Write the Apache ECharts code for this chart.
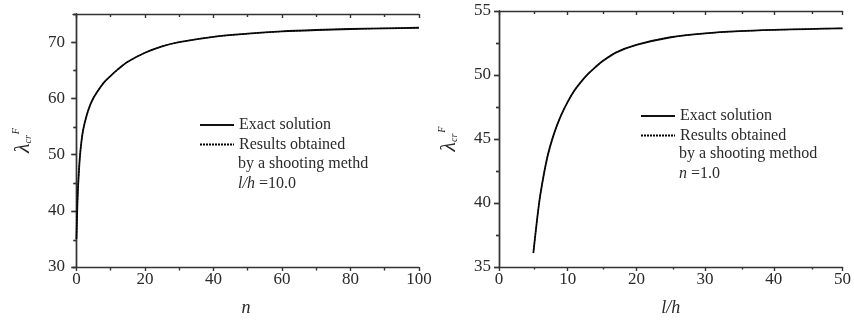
<!DOCTYPE html>
<html>
<head>
<meta charset="utf-8">
<script src="https://cdn.jsdelivr.net/npm/echarts@6/dist/echarts.min.js"></script>
<style>html,body{margin:0;padding:0;background:#fff;}#c{width:854px;height:322px;}</style>
</head>
<body>
<div id="c"></div>
<script>
// Left panel: lambda_cr^F vs n (l/h = 10.0)
const leftN        = [0, 0.25, 0.5, 1, 1.5, 2, 3, 4, 5, 6, 8, 10, 12, 15, 20, 25, 30, 40, 50, 60, 70, 80, 90, 100];
const leftExact    = [35.0, 40.5, 44.5, 49.5, 52.5, 54.5, 57.0, 58.8, 60.1, 61.1, 62.8, 64.0, 65.1, 66.5, 68.1, 69.25, 70.0, 70.95, 71.5, 71.9, 72.15, 72.33, 72.45, 72.55];
const leftShooting = [35.0, 40.5, 44.5, 49.5, 52.5, 54.5, 57.0, 58.8, 60.1, 61.1, 62.8, 64.0, 65.1, 66.5, 68.1, 69.25, 70.0, 70.95, 71.5, 71.9, 72.15, 72.33, 72.45, 72.55];
const leftXMajor = [0, 20, 40, 60, 80, 100];
const leftXMinor = [10, 30, 50, 70, 90];
const leftYMajor = [30, 40, 50, 60, 70];
const leftYMinor = [35, 45, 55, 65, 75];

// Right panel: lambda_cr^F vs l/h (n = 1.0)
const rightLH       = [5, 5.5, 6, 7, 8, 9, 10, 11, 12, 13, 14, 15, 17, 20, 25, 30, 35, 40, 45, 50];
const rightExact    = [36.1, 38.5, 40.6, 43.5, 45.4, 46.8, 47.9, 48.8, 49.5, 50.1, 50.6, 51.05, 51.75, 52.35, 52.95, 53.25, 53.42, 53.52, 53.59, 53.65];
const rightShooting = [36.1, 38.5, 40.6, 43.5, 45.4, 46.8, 47.9, 48.8, 49.5, 50.1, 50.6, 51.05, 51.75, 52.35, 52.95, 53.25, 53.42, 53.52, 53.59, 53.65];
const rightXMajor = [0, 10, 20, 30, 40, 50];
const rightXMinor = [5, 15, 25, 35, 45];
const rightYMajor = [35, 40, 45, 50, 55];
const rightYMinor = [37.5, 42.5, 47.5, 52.5];

const legendNames = ['Exact solution', 'Results obtained'];

const FONT = '"Liberation Serif", "Times New Roman", serif';
const AX = '#333';
const TXT = '#2a2a2a';

const grids = [
  {left: 73, top: 14, width: 346, height: 254},
  {left: 73, top: 14, width: 346, height: 254},
  {left: 499, top: 11, width: 348, height: 256},
  {left: 499, top: 11, width: 348, height: 256}
];

function xAxes(g, min, max, major, minor, name) {
  const lineStyle = {color: AX, width: 1.4};
  return [
    {type: 'value', gridIndex: g, position: 'bottom', min, max,
     name, nameLocation: 'middle', nameGap: 32,
     nameTextStyle: {fontFamily: FONT, fontSize: 18, fontStyle: 'italic', color: TXT},
     axisLine: {show: true, lineStyle}, splitLine: {show: false},
     axisTick: {show: true, inside: false, length: 4, customValues: major, lineStyle},
     axisLabel: {show: true, customValues: major, margin: 4, fontFamily: FONT, fontSize: 17, color: TXT}},
    {type: 'value', gridIndex: g, position: 'top', min, max,
     axisLine: {show: true, lineStyle}, splitLine: {show: false},
     axisTick: {show: true, inside: true, length: 4, customValues: major, lineStyle},
     axisLabel: {show: false}},
    {type: 'value', gridIndex: g + 1, position: 'bottom', min, max,
     axisLine: {show: false}, splitLine: {show: false},
     axisTick: {show: true, inside: false, length: 2.5, customValues: minor, lineStyle},
     axisLabel: {show: false}},
    {type: 'value', gridIndex: g + 1, position: 'top', min, max,
     axisLine: {show: false}, splitLine: {show: false},
     axisTick: {show: true, inside: true, length: 3, customValues: minor, lineStyle},
     axisLabel: {show: false}}
  ];
}

function yAxes(g, min, max, major, minor, gap) {
  const lineStyle = {color: AX, width: 1.4};
  return [
    {type: 'value', gridIndex: g, position: 'left', min, max,
     name: '{l|λ}{s|cr}{p|F}', nameLocation: 'middle', nameGap: gap, nameRotate: 90,
     nameTextStyle: {
       fontFamily: FONT, color: TXT,
       rich: {
         l: {fontFamily: FONT, fontSize: 22, fontStyle: 'italic', color: TXT, lineHeight: 24, verticalAlign: 'middle'},
         s: {fontFamily: FONT, fontSize: 10, fontStyle: 'italic', color: TXT, lineHeight: 24, verticalAlign: 'bottom', padding: [0, 0, 2, 0]},
         p: {fontFamily: FONT, fontSize: 10, fontStyle: 'italic', color: TXT, lineHeight: 24, verticalAlign: 'top', padding: [0, 0, 0, 1]}
       }
     },
     axisLine: {show: true, lineStyle}, splitLine: {show: false},
     axisTick: {show: true, inside: false, length: 5, customValues: major, lineStyle},
     axisLabel: {show: true, customValues: major, margin: 8, fontFamily: FONT, fontSize: 17, color: TXT}},
    {type: 'value', gridIndex: g, position: 'right', min, max,
     axisLine: {show: true, lineStyle}, splitLine: {show: false},
     axisTick: {show: true, inside: true, length: 5, customValues: major, lineStyle},
     axisLabel: {show: false}},
    {type: 'value', gridIndex: g + 1, position: 'left', min, max,
     axisLine: {show: false}, splitLine: {show: false},
     axisTick: {show: true, inside: false, length: 3, customValues: minor, lineStyle},
     axisLabel: {show: false}},
    {type: 'value', gridIndex: g + 1, position: 'right', min, max,
     axisLine: {show: false}, splitLine: {show: false},
     axisTick: {show: true, inside: true, length: 3, customValues: minor, lineStyle},
     axisLabel: {show: false}}
  ];
}

const xAxis = [].concat(
  xAxes(0, -1, 100, leftXMajor, leftXMinor, 'n'),
  xAxes(2, 0, 50, rightXMajor, rightXMinor, 'l/h')
);
const yAxis = [].concat(
  yAxes(0, 30, 75, leftYMajor, leftYMinor, 38),
  yAxes(2, 35, 55, rightYMajor, rightYMinor, 38)
);

function pairs(xs, ys) { return xs.map((x, i) => [x, ys[i]]); }

function lineSeries(name, data, xi, yi, dashed) {
  return {
    name, type: 'line', xAxisIndex: xi, yAxisIndex: yi, data,
    smooth: 0.3, symbol: 'none', showSymbol: false, silent: true,
    itemStyle: {color: '#000'},
    lineStyle: dashed ? {color: '#000', width: 1.1, type: [2, 1]} : {color: '#111', width: 1.8},
    z: dashed ? 3 : 2
  };
}

const series = [
  lineSeries(legendNames[0], pairs(leftN, leftExact), 0, 0, false),
  lineSeries(legendNames[1], pairs(leftN, leftShooting), 0, 0, true),
  lineSeries(legendNames[0], pairs(rightLH, rightExact), 4, 4, false),
  lineSeries(legendNames[1], pairs(rightLH, rightShooting), 4, 4, true)
];

function legendAt(left, top) {
  return {
    data: legendNames, orient: 'vertical', left, top, padding: 0,
    itemWidth: 34, itemHeight: 16, itemGap: 3.5, selectedMode: false,
    itemStyle: {opacity: 0},
    textStyle: {fontFamily: FONT, fontSize: 16, color: TXT}
  };
}

const extraText = (x, y, rich) => ({
  type: 'text', left: x, top: y,
  style: {text: rich, fontFamily: FONT, fontSize: 16, fill: TXT,
    rich: {i: {fontFamily: FONT, fontSize: 16, fontStyle: 'italic', fill: TXT}}}
});

const option = {
  animation: false,
  backgroundColor: '#fff',
  grid: grids,
  xAxis, yAxis, series,
  legend: [legendAt(199, 117), legendAt(640, 108)],
  graphic: [
    extraText(238, 156, 'by a shooting methd'),
    extraText(238, 176, '{i|l/h} =10.0'),
    extraText(679, 146, 'by a shooting method'),
    extraText(679, 166, '{i|n} =1.0')
  ]
};

const chart = echarts.init(document.getElementById('c'), null, {renderer: 'canvas'});
chart.setOption(option);
</script>
</body>
</html>
